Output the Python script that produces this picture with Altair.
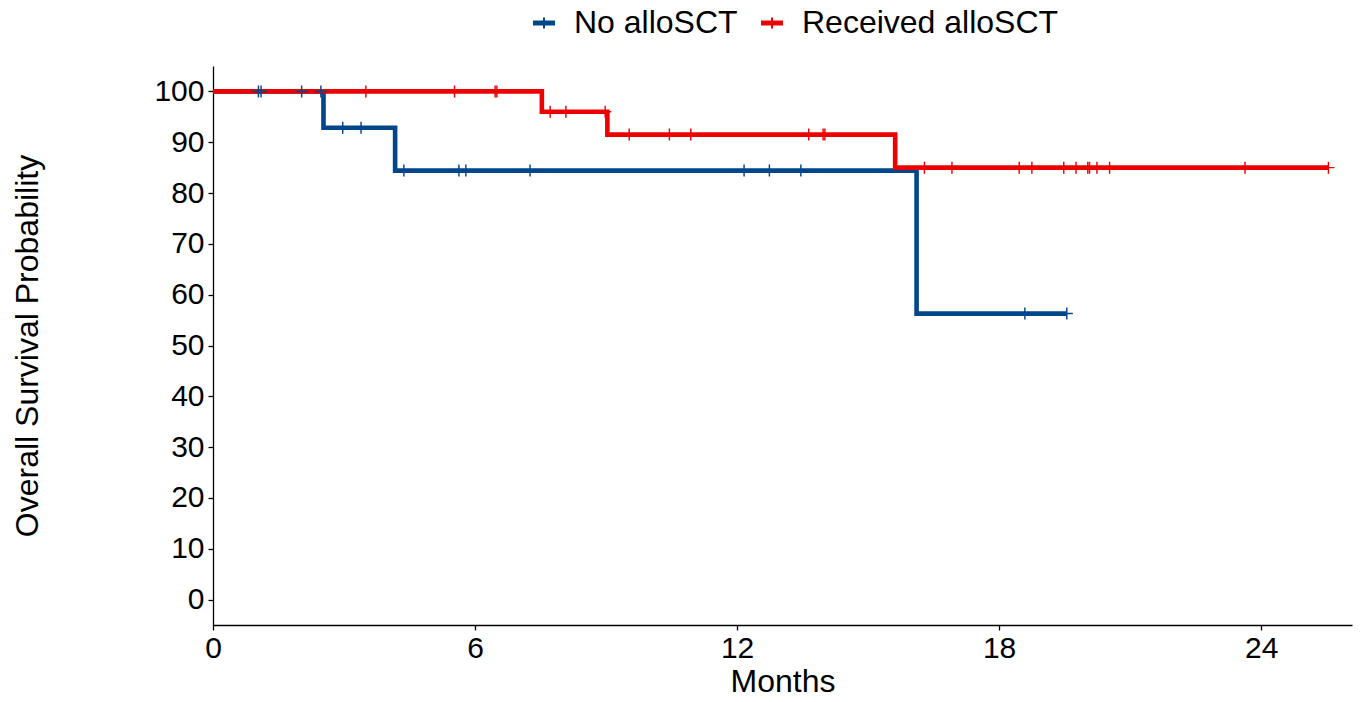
import altair as alt
import pandas as pd

groups = ["No alloSCT", "Received alloSCT"]
colors = ["#00468B", "#ED0000"]

# Kaplan-Meier step points (time in months, survival %)
no_step_t = [0, 2.53, 4.17, 16.11, 19.55]
no_step_s = [100, 92.86, 84.42, 56.28, 56.28]
rec_step_t = [0, 7.53, 9.03, 15.62, 25.54]
rec_step_s = [100, 96.0, 91.5, 85.0, 85.0]

# Censoring times and the survival level at that time
no_cens_t = [1.04, 1.10, 2.03, 2.47, 2.97, 3.39, 4.37, 5.63, 5.79, 7.26,
             12.16, 12.74, 13.46, 18.59, 19.55]
no_cens_s = [100, 100, 100, 100, 92.86, 92.86, 84.42, 84.42, 84.42, 84.42,
             84.42, 84.42, 84.42, 56.28, 56.28]
rec_cens_t = [3.50, 5.53, 6.46, 6.50, 7.72, 8.08, 8.98, 9.53, 10.45, 10.94,
              13.64, 13.97, 14.01, 16.29, 16.92, 18.46, 18.75, 19.48, 19.76,
              20.03, 20.07, 20.24, 20.53, 23.63, 25.54]
rec_cens_s = [100, 100, 100, 100, 96, 96, 96, 91.5, 91.5, 91.5,
              91.5, 91.5, 91.5, 85, 85, 85, 85, 85, 85,
              85, 85, 85, 85, 85, 85]

x_ticks = [0, 6, 12, 18, 24]
y_ticks = [0, 10, 20, 30, 40, 50, 60, 70, 80, 90, 100]

no_steps = pd.DataFrame({"t": no_step_t, "s": no_step_s})
rec_steps = pd.DataFrame({"t": rec_step_t, "s": rec_step_s})
cens = pd.DataFrame({
    "t": no_cens_t + rec_cens_t,
    "s": no_cens_s + rec_cens_s,
    "g": [groups[0]] * len(no_cens_t) + [groups[1]] * len(rec_cens_t),
})

FONT = "Liberation Sans"

x_enc = alt.X("t:Q", scale=alt.Scale(domain=[0, 26.08], nice=False, zero=False),
              axis=alt.Axis(values=x_ticks, title="Months", titleY=66,
                            titleBaseline="alphabetic", labelPadding=3,
                            labelFlush=False))
y_enc = alt.Y("s:Q", scale=alt.Scale(domain=[-5, 105], nice=False, zero=False),
              axis=alt.Axis(values=y_ticks, title="Overall Survival Probability",
                            titleX=-176, titleY=279.5, titleAngle=270,
                            titleAlign="center", titleBaseline="alphabetic",
                            labelPadding=4, labelFlush=False))

line_no = alt.Chart(no_steps).mark_line(
    interpolate="step-after", strokeWidth=4.6, color=colors[0]
).encode(x=x_enc, y=y_enc, order=alt.Order("t:Q"))

line_rec = alt.Chart(rec_steps).mark_line(
    interpolate="step-after", strokeWidth=4.6, color=colors[1]
).encode(x="t:Q", y="s:Q", order=alt.Order("t:Q"))

censor_path = "M-0.12,-1H0.12V1H-0.12Z M-1,-0.12H1V0.12H-1Z"
legend_path = "M-1,-0.22H1V0.22H-1Z M-0.09,-0.5H0.09V0.5H-0.09Z"

points = alt.Chart(cens).mark_point(filled=True, shape=censor_path, size=144,
                                    opacity=1, strokeWidth=0).encode(
    x="t:Q",
    y="s:Q",
    fill=alt.Fill("g:N", scale=alt.Scale(domain=groups, range=colors),
                  legend=alt.Legend(title=None, orient="none", direction="horizontal",
                                    legendX=315, legendY=-59,
                                    symbolType=legend_path, symbolSize=484,
                                    symbolStrokeWidth=0, symbolOpacity=1,
                                    labelFont=FONT, labelFontSize=32,
                                    labelColor="black", labelOffset=14,
                                    labelLimit=0,
                                    columnPadding=18, padding=0)),
)

chart = (line_no + line_rec + points).properties(
    width=1139, height=559,
    background="white",
    autosize=alt.AutoSizeParams(type="none"),
    padding={"left": 213, "top": 66, "right": 12, "bottom": 77},
).configure_view(stroke=None).configure_axis(
    grid=False, domainColor="black", domainWidth=1.3, tickColor="black",
    tickWidth=1.3, tickSize=5, labelFont=FONT, labelFontSize=30,
    labelColor="black", titleFont=FONT, titleFontSize=32, titleColor="black",
    titleFontWeight="normal",
)

chart.save("out.html", embed_options={"renderer": "svg", "actions": False})
